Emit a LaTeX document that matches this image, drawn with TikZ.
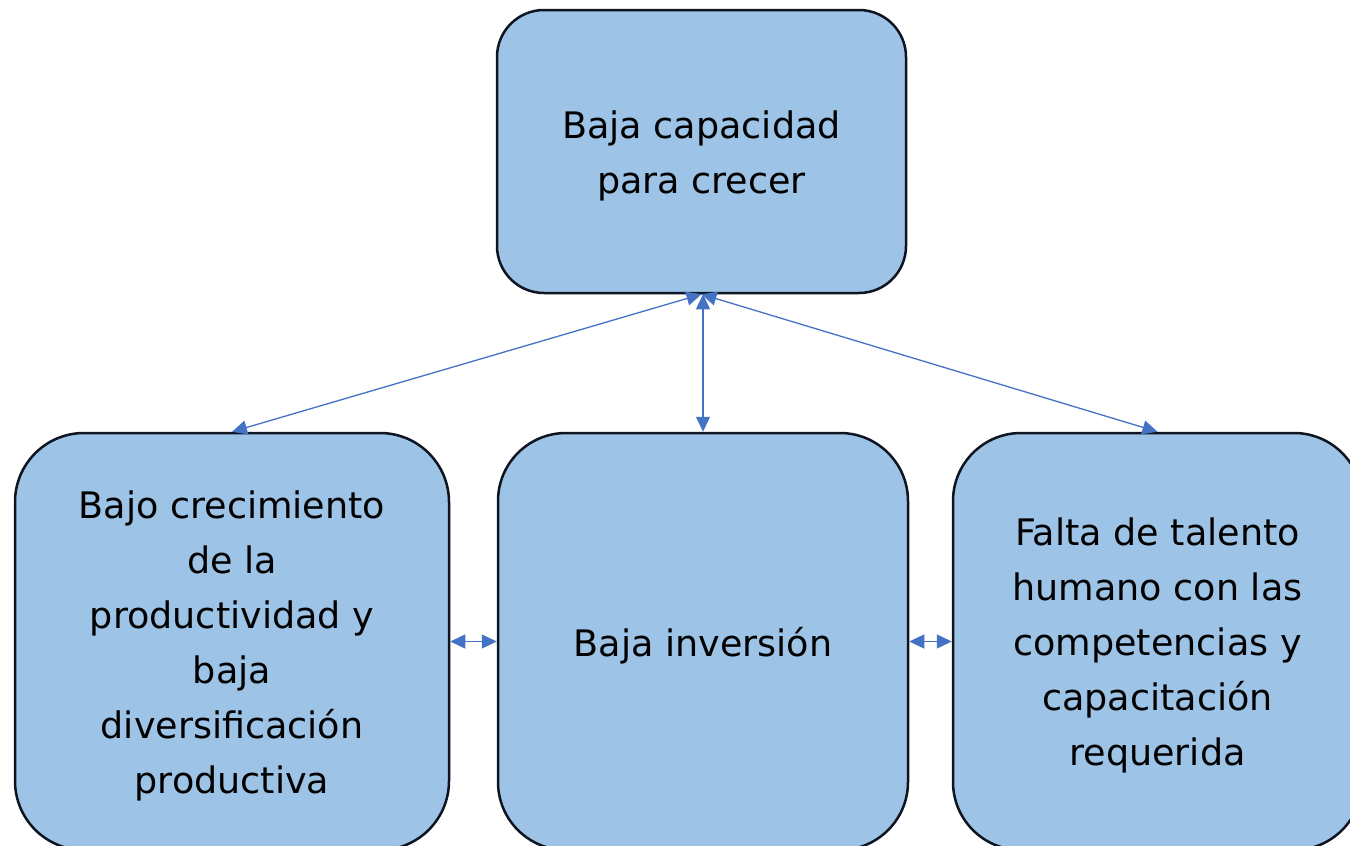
\documentclass[tikz,border=0pt]{standalone}
\usepackage{fontspec}
\setmainfont{DejaVu Sans}
\usetikzlibrary{arrows.meta}
\definecolor{boxfill}{HTML}{9DC3E6}
\definecolor{boxline}{HTML}{0E1420}
\definecolor{arrowc}{HTML}{4472C4}
\tikzset{
  box/.style={draw=boxline, fill=boxfill, line width=2.5pt, inner sep=0pt},
  boxtext/.style={align=center, inner sep=0pt, yshift=-4pt,
    font=\fontsize{36.5}{55}\selectfont},
  link/.style={draw=arrowc, line width=1.3pt, {Triangle[length=15pt,width=14pt]}-{Triangle[length=15pt,width=14pt]}}
}
\begin{document}
\begin{tikzpicture}[x=1pt,y=-1pt]
\useasboundingbox (0,0) rectangle (1350,846);
\node[box, rounded corners=47pt, minimum width=409pt, minimum height=283pt,
  label={[boxtext]center:{Baja capacidad\\para crecer}}] (top) at (701.5,151.5) {};
\node[box, rounded corners=69pt, minimum width=434pt, minimum height=417pt,
  label={[boxtext]center:{Bajo crecimiento\\de la\\productividad y\\baja\\diversificación\\productiva}}] (left) at (232,641.5) {};
\node[box, rounded corners=68pt, minimum width=410pt, minimum height=417pt,
  label={[boxtext]center:{Baja inversión}}] (mid) at (703,641.5) {};
\node[box, rounded corners=68pt, minimum width=409pt, minimum height=417pt,
  label={[boxtext]center:{Falta de talento\\humano con las\\competencias y\\capacitación\\requerida}}] (right) at (1157.5,641.5) {};
\draw[link] (left.north) -- (top.south);
\draw[link] (mid.north |- top.south) -- (mid.north);
\draw[link] (top.south) -- (right.north);
\draw[link] (left.east) -- (mid.west);
\draw[link] (mid.east) -- (right.west);
\end{tikzpicture}
\end{document}
